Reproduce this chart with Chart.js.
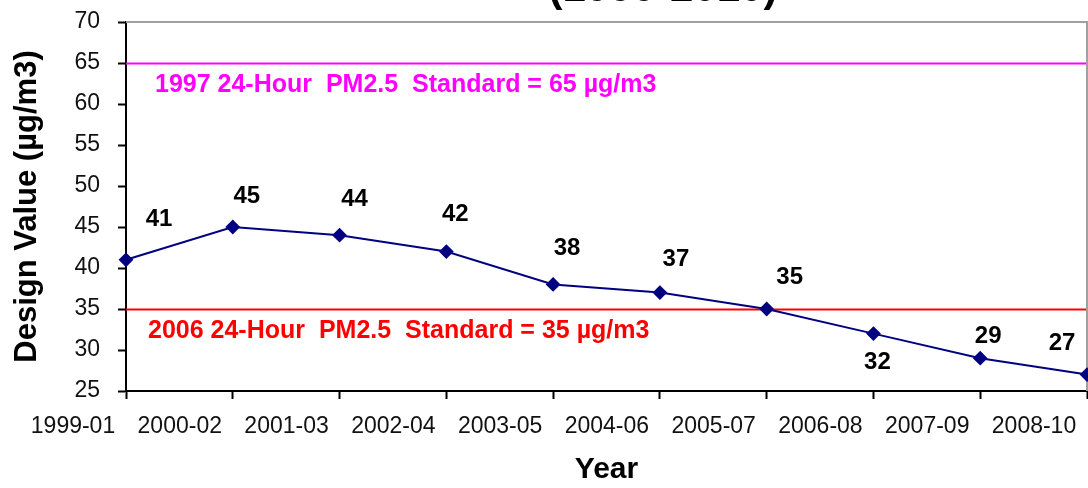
<!DOCTYPE html>
<html>
<head>
<meta charset="utf-8">
<script src="https://cdn.jsdelivr.net/npm/chart.js@4.4.1/dist/chart.umd.min.js"></script>
<style>
  html, body { margin: 0; padding: 0; background: #fff; }
  #wrap { width: 1088px; height: 488px; }
</style>
</head>
<body>
<div id="wrap"><canvas id="grafica" width="1088" height="488"></canvas></div>
<script>
/* ==========================================================
   DATOS
========================================================== */
const years = [
    "1999-01", "2000-02", "2001-03", "2002-04", "2003-05",
    "2004-06", "2005-07", "2006-08", "2007-09", "2008-10"
];

const designValues = [41, 45, 44, 42, 38, 37, 35, 32, 29, 27];

const yTicks = { min: 25, max: 70, step: 5 };

const standards = [
    { value: 65, text: "1997 24-Hour  PM2.5  Standard = 65 µg/m3", color: "#FF00FF" },
    { value: 35, text: "2006 24-Hour  PM2.5  Standard = 35 µg/m3", color: "#FF0000" }
];

const titleText = "(1999-2010)";

/* ==========================================================
   ESTILO
========================================================== */
const FONT = "'Liberation Sans', Arial, sans-serif";

// desplazamiento de cada etiqueta respecto a su punto (px)
const labelNudge = [
    [33, -40], [14, -31], [15, -36], [9, -37], [14, -36],
    [16, -33], [23, -32], [4, 29], [8, -22], [-25, -31]
];

/* ==========================================================
   PLUGINS
========================================================== */
const lineasEstandar = {
    id: "lineasEstandar",
    beforeDatasetsDraw(chart) {
        const { ctx, chartArea, scales } = chart;
        ctx.save();
        standards.forEach(s => {
            const y = Math.round(scales.y.getPixelForValue(s.value)) + 0.5;
            ctx.strokeStyle = s.color;
            ctx.lineWidth = 2;
            ctx.beginPath();
            ctx.moveTo(chartArea.left, y);
            ctx.lineTo(chartArea.right, y);
            ctx.stroke();

            ctx.fillStyle = s.color;
            ctx.font = "bold 25px " + FONT;
            ctx.textAlign = "left";
            ctx.textBaseline = "middle";
            ctx.fillText(s.text, chartArea.left + (s.value > 50 ? 29 : 22), y + 22);
        });

        // borde gris arriba y derecha
        ctx.strokeStyle = "#A0A0A0";
        ctx.lineWidth = 2;
        ctx.beginPath();
        ctx.moveTo(chartArea.left, chartArea.top);
        ctx.lineTo(chartArea.right, chartArea.top);
        ctx.lineTo(chartArea.right, chartArea.bottom);
        ctx.stroke();
        ctx.restore();
    }
};

const etiquetas = {
    id: "etiquetas",
    afterDatasetsDraw(chart) {
        const { ctx } = chart;
        const meta = chart.getDatasetMeta(0);
        ctx.save();
        ctx.fillStyle = "#000";
        ctx.font = "bold 24px " + FONT;
        ctx.textAlign = "center";
        ctx.textBaseline = "middle";
        meta.data.forEach((p, i) => {
            const n = labelNudge[i];
            ctx.fillText(String(designValues[i]), p.x + n[0], p.y + n[1]);
        });
        ctx.restore();
    }
};

const tituloCortado = {
    id: "tituloCortado",
    afterDraw(chart) {
        const { ctx } = chart;
        ctx.save();
        ctx.fillStyle = "#000";
        ctx.font = "bold 42px " + FONT;
        ctx.textAlign = "center";
        ctx.textBaseline = "alphabetic";
        ctx.fillText(titleText, 663, 1);
        ctx.restore();
    }
};

/* ==========================================================
   GRAFICA
========================================================== */
new Chart(document.getElementById("grafica"), {
    type: "line",
    data: {
        labels: years,
        datasets: [{
            label: "Design Value",
            data: designValues,
            borderColor: "#000080",
            backgroundColor: "#000080",
            borderWidth: 2,
            pointStyle: "rectRot",
            pointRadius: 6,
            pointBackgroundColor: "#000080",
            pointBorderColor: "#000080",
            tension: 0,
            clip: false
        }]
    },
    options: {
        responsive: false,
        animation: false,
        layout: {
            autoPadding: false,
            padding: { top: 22, right: 1, left: 0, bottom: 0 }
        },
        plugins: {
            legend: { display: false },
            tooltip: { enabled: false }
        },
        scales: {
            x: {
                type: "category",
                offset: false,
                afterFit: s => {
                    s.height = 97;
                    s.paddingLeft = 0;
                    s.paddingRight = 0;
                },
                border: { color: "#000", width: 2 },
                grid: {
                    drawOnChartArea: false,
                    tickLength: 8,
                    tickColor: "#000",
                    tickWidth: 2
                },
                ticks: {
                    autoSkip: false,
                    maxRotation: 0,
                    minRotation: 0,
                    labelOffset: -53,
                    padding: 14,
                    color: "#111",
                    font: { family: FONT, size: 23 }
                },
                title: {
                    display: true,
                    text: "Year",
                    color: "#000",
                    font: { family: FONT, size: 30, weight: "bold" },
                    padding: { top: 0, bottom: 0 }
                }
            },
            y: {
                min: yTicks.min,
                max: yTicks.max,
                afterFit: s => {
                    s.width = 126;
                    s.paddingTop = 0;
                    s.paddingBottom = 0;
                },
                border: { color: "#000", width: 2 },
                grid: {
                    drawOnChartArea: false,
                    tickLength: 8,
                    tickColor: "#000",
                    tickWidth: 2
                },
                ticks: {
                    stepSize: yTicks.step,
                    padding: 18,
                    color: "#111",
                    font: { family: FONT, size: 23 }
                },
                title: {
                    display: true,
                    text: "Design Value (µg/m3)",
                    color: "#000",
                    font: { family: FONT, size: 31, weight: "bold" },
                    padding: { top: 9, bottom: 0 }
                }
            }
        }
    },
    plugins: [lineasEstandar, etiquetas, tituloCortado]
});
</script>
</body>
</html>
